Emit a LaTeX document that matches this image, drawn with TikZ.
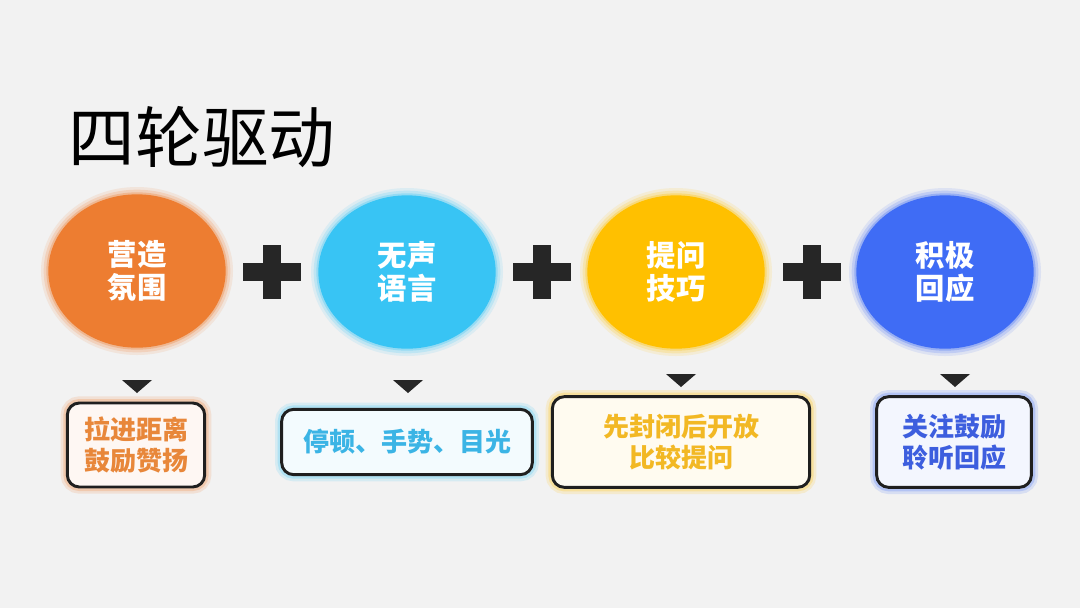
\documentclass[tikz,border=0pt]{standalone}
\usepackage{fontspec}
\newfontfamily\cjk{Noto Sans CJK SC}
\usepackage{tikz}
\usetikzlibrary{shapes.geometric}

\definecolor{bgc}{HTML}{F2F2F2}
\definecolor{darkc}{HTML}{262626}
\definecolor{orangeC}{HTML}{ED7D31}
\definecolor{cyanC}{HTML}{38C4F4}
\definecolor{yellowC}{HTML}{FFC000}
\definecolor{blueC}{HTML}{3F6CF5}
\definecolor{orangeT}{HTML}{E8873A}
\definecolor{cyanT}{HTML}{3BB4E5}
\definecolor{yellowT}{HTML}{F2B824}
\definecolor{blueT}{HTML}{3D5EDE}

\begin{document}
\begin{tikzpicture}[
  x=0.75pt, y=-0.75pt,
  circ/.style={ellipse, fill=#1, text=white, align=center, inner sep=0pt,
    minimum width=133pt, minimum height=115pt,
    font=\cjk\bfseries\fontsize{22}{25}\selectfont,
    preaction={draw=#1!12!bgc, line width=11pt},
    preaction={draw=#1!28!bgc, line width=7pt},
    preaction={draw=#1!50!bgc, line width=3pt}},
  box/.style={rectangle, rounded corners=9pt, draw=black!88, line width=2.2pt,
    fill=#1!6!white, align=center, inner sep=0pt,
    font=\cjk\bfseries\fontsize{19.5}{23}\selectfont,
    preaction={draw=#1!15!bgc, line width=10pt},
    preaction={draw=#1!35!bgc, line width=6pt}},
  plus/.style={fill=darkc},
  tri/.style={fill=darkc}
]
  \fill[bgc] (0,0) rectangle (1080,608);

  \node[font=\cjk\fontsize{50}{50}\selectfont, text=black] (title) at (202,137) {四轮驱动};

  % circles
  \node[circ=orangeC] (c1) at (137,271) {营造\\氛围};
  \node[circ=cyanC]   (c2) at (407,272) {无声\\语言};
  \node[circ=yellowC] (c3) at (676,272) {提问\\技巧};
  \node[circ=blueC]   (c4) at (945,272) {积极\\回应};

  % plus signs
  \coordinate (p1) at (272,272);
  \coordinate (p2) at (542,272);
  \coordinate (p3) at (812,272);
  \foreach \p in {p1,p2,p3}{
    \fill[plus] (\p) ++(-29,-9) rectangle ++(58,18);
    \fill[plus] (\p) ++(-9,-27) rectangle ++(18,54);
  }

  % markers
  \coordinate (t1) at (137,386);
  \coordinate (t2) at (408,386);
  \coordinate (t3) at (681,380);
  \coordinate (t4) at (955,380);
  \foreach \t in {t1,t2,t3,t4}
    \fill[tri] (\t) ++(-15,-6) -- ++(30,0) -- ++(-15,13) -- cycle;

  % boxes
  \node[box=orangeC, text=orangeT, minimum width=103pt, minimum height=63pt] (b1) at (136,445) {拉进距离\\鼓励赞扬};
  \node[box=cyanC, text=cyanT, minimum width=188pt, minimum height=49pt] (b2) at (407,442) {停顿、手势、目光};
  \node[box=yellowC, text=yellowT, minimum width=193pt, minimum height=68pt] (b3) at (681,442) {先封闭后开放\\比较提问};
  \node[box=blueC, text=blueT, minimum width=116pt, minimum height=68pt] (b4) at (954,442) {关注鼓励\\聆听回应};
\end{tikzpicture}
\end{document}
